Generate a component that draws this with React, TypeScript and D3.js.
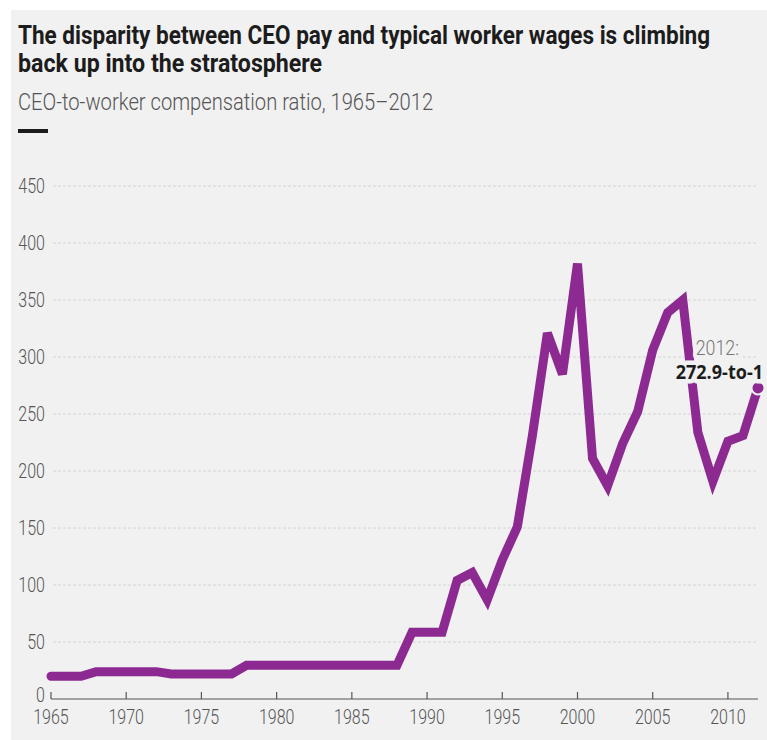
import React, { useLayoutEffect, useRef, useState } from "react";
import * as d3 from "d3";

const years: number[] = [
  1965, 1966, 1967, 1968, 1969, 1970, 1971, 1972, 1973, 1974, 1975, 1976, 1977, 1978, 1979,
  1980, 1981, 1982, 1983, 1984, 1985, 1986, 1987, 1988, 1989, 1990, 1991, 1992, 1993, 1994,
  1995, 1996, 1997, 1998, 1999, 2000, 2001, 2002, 2003, 2004, 2005, 2006, 2007, 2008, 2009,
  2010, 2011, 2012,
];
const ratios: number[] = [
  20, 20, 20, 24, 24, 24, 24, 24, 22, 22, 22, 22, 22, 29.5, 29.5,
  29.5, 29.5, 29.5, 29.5, 29.5, 29.5, 29.5, 29.5, 29.5, 58.5, 58.5, 58.5, 104, 111, 87,
  122, 151, 231, 321, 285, 382, 211, 187, 224, 252, 306, 339, 350, 234, 191,
  226, 231, 272.9,
];
const yTicks: number[] = [0, 50, 100, 150, 200, 250, 300, 350, 400, 450];
const xTicks: number[] = [1965, 1970, 1975, 1980, 1985, 1990, 1995, 2000, 2005, 2010];

const titleLines: string[] = [
  "The disparity between CEO pay and typical worker wages is climbing",
  "back up into the stratosphere",
];
const titleWidths: number[] = [692, 304];
const subtitle = "CEO-to-worker compensation ratio, 1965\u20132012";
const endLabelTop = "2012:";
const endLabelBottom = "272.9-to-1";

const W = 767;
const H = 740;
const BG = "#f1f1f1";
const PURPLE = "#8c2a91";
const FONT = "Roboto, 'Open Sans', sans-serif";

function FitText(props: {
  x: number;
  y: number;
  width: number;
  size: number;
  fill: string;
  weight?: number | string;
  sy?: number;
  children: string;
}) {
  const { x, y, width, size, fill, weight = 400, sy = 1, children } = props;
  const ref = useRef<SVGTextElement>(null);
  const [sx, setSx] = useState(0.8);
  useLayoutEffect(() => {
    if (ref.current) {
      const w = ref.current.getComputedTextLength();
      if (w > 0) setSx(width / w);
    }
  }, [width, children, size]);
  return (
    <text
      ref={ref}
      transform={`translate(${x},${y}) scale(${sx},${sy})`}
      fontFamily={FONT}
      fontSize={size}
      fontWeight={weight}
      fill={fill}
    >
      {children}
    </text>
  );
}

function CText(props: {
  x: number;
  y: number;
  sx: number;
  anchor?: string;
  size: number;
  fill: string;
  weight?: number | string;
  children: React.ReactNode;
  halo?: boolean;
  family?: string;
}) {
  const { x, y, sx, anchor = "start", size, fill, weight = 400, children, halo, family } = props;
  return (
    <text
      transform={`translate(${x},${y}) scale(${sx},1)`}
      textAnchor={anchor}
      fontFamily={family || FONT}
      fontSize={size}
      fontWeight={weight}
      fill={fill}
      stroke={halo ? BG : undefined}
      strokeWidth={halo ? 9 : undefined}
      strokeLinejoin="round"
      paintOrder="stroke"
    >
      {children}
    </text>
  );
}

export default function App() {
  const x = d3.scaleLinear().domain([1965, 2012]).range([51, 758]);
  const y = d3.scaleLinear().domain([0, 450]).range([699, 186]);
  const data = years.map((yr, i) => ({ yr, v: ratios[i] }));
  const line = d3
    .line<{ yr: number; v: number }>()
    .x((d) => x(d.yr))
    .y((d) => y(d.v))
    .curve(d3.curveLinear);
  const last = data[data.length - 1];

  return (
    <svg
      width={W}
      height={H}
      style={{ position: "absolute", left: 0, top: 0, display: "block" }}
    >
      <rect x={0} y={0} width={W} height={H} fill="#ffffff" />
      <rect x={11} y={10} width={W - 11} height={H - 10} fill={BG} />

      {/* Title */}
      {titleLines.map((t, i) => (
        <FitText
          key={i}
          x={18}
          y={44 + i * 28}
          width={titleWidths[i]}
          size={24}
          sy={1.06}
          weight="bold"
          fill="#1c1c1c"
        >
          {t}
        </FitText>
      ))}
      <FitText x={18} y={110} width={415} size={23} weight={300} fill="#555">
        {subtitle}
      </FitText>
      <rect x={18} y={129} width={30} height={4} fill="#1c1c1c" />

      {/* gridlines */}
      {yTicks
        .filter((t) => t > 0)
        .map((t) => (
          <line
            key={t}
            x1={53}
            x2={758}
            y1={y(t)}
            y2={y(t)}
            stroke="#d4d4d4"
            strokeWidth={1}
            strokeDasharray="3,2"
          />
        ))}
      {/* y labels */}
      {yTicks.map((t) => (
        <CText
          key={t}
          x={45}
          y={t === 0 ? y(t) + 3 : y(t) + 7}
          sx={0.8}
          anchor="end"
          size={20}
          fill="#555"
          weight={300}
        >
          {t}
        </CText>
      ))}

      {/* x axis */}
      <line x1={x(1965)} x2={758} y1={y(0)} y2={y(0)} stroke="#555" strokeWidth={1.2} />
      {xTicks.map((t) => (
        <g key={t}>
          <line x1={x(t)} x2={x(t)} y1={y(0)} y2={y(0) - 7} stroke="#555" strokeWidth={1.2} />
          <CText x={x(t)} y={y(0) + 25} sx={0.8} anchor="middle" size={20} fill="#555" weight={300}>
            {t}
          </CText>
        </g>
      ))}

      {/* line */}
      <path
        d={line(data) || ""}
        fill="none"
        stroke={PURPLE}
        strokeWidth={9}
        strokeLinejoin="miter"
        strokeLinecap="round"
      />
      <circle cx={x(last.yr)} cy={y(last.v)} r={6.5} fill={PURPLE} stroke={BG} strokeWidth={2} />

      {/* end label with halo */}
      <CText x={739} y={355} sx={0.85} anchor="end" size={21} fill="#777" weight={300} halo>
        {endLabelTop}
      </CText>
      <CText
        x={763}
        y={379}
        sx={0.95}
        anchor="end"
        size={19}
        fill="#1c1c1c"
        weight="bold"
        halo
        family="'Open Sans', 'DejaVu Sans', sans-serif"
      >
        {endLabelBottom}
      </CText>
    </svg>
  );
}
